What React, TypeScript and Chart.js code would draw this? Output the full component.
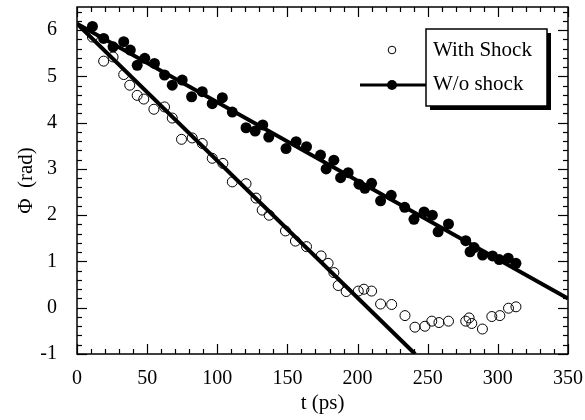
import React, { useEffect, useRef } from "react";
import { Chart, registerables } from "chart.js";

Chart.register(...registerables);

const FONT = "'Liberation Serif', 'Times New Roman', serif";

// Axis ticks
const xMajorTicks = [0, 50, 100, 150, 200, 250, 300, 350];
const yMajorTicks = [-1, 0, 1, 2, 3, 4, 5, 6];
const xMinorStep = 10;
const yMinorStep = 0.2;

// With Shock (open circles)
const withShockT = [11, 19, 25.7, 33.3, 37.6, 42.9, 47.6, 54.8, 62.4, 67.9, 74.5, 82.1, 89.3, 96.4, 104, 110.7, 120.5, 127.6, 132, 137, 148.6, 155.7, 163.6, 174, 179, 183.1, 186.2, 191.9, 200.5, 204.5, 210, 216.4, 224.3, 233.8, 240.9, 248, 252.9, 258, 264.8, 277.1, 279.5, 281.4, 289, 295.7, 301.4, 307.6, 312.9];
const withShockPhi = [5.85, 5.33, 5.42, 5.04, 4.81, 4.59, 4.51, 4.29, 4.34, 4.1, 3.64, 3.67, 3.55, 3.23, 3.12, 2.72, 2.68, 2.37, 2.11, 2.0, 1.66, 1.44, 1.32, 1.12, 0.96, 0.76, 0.48, 0.35, 0.36, 0.4, 0.36, 0.08, 0.07, -0.17, -0.42, -0.4, -0.29, -0.32, -0.29, -0.29, -0.22, -0.34, -0.46, -0.19, -0.17, -0.01, 0.02];

// W/o shock (filled circles)
const withoutShockT = [11, 19, 25.7, 33.3, 38, 42.9, 48.3, 55.2, 62.4, 67.9, 75, 81.7, 89.3, 96.4, 103.6, 110.7, 120.5, 127, 132.4, 136.7, 149, 156.2, 163.6, 173.6, 177.6, 183.1, 187.9, 193.3, 201, 205.2, 210, 216.4, 224, 233.6, 240.2, 247.4, 253.3, 257.4, 264.8, 277.1, 280.2, 283.1, 289.1, 296.2, 301, 307.4, 312.9];
const withoutShockPhi = [6.08, 5.82, 5.64, 5.75, 5.57, 5.24, 5.39, 5.28, 5.03, 4.81, 4.92, 4.56, 4.67, 4.41, 4.54, 4.23, 3.89, 3.82, 3.95, 3.69, 3.44, 3.59, 3.48, 3.3, 3.0, 3.19, 2.81, 2.92, 2.67, 2.58, 2.69, 2.31, 2.43, 2.17, 1.91, 2.07, 2.0, 1.64, 1.81, 1.45, 1.21, 1.3, 1.14, 1.12, 1.04, 1.07, 0.96];

// Linear fits
const fitWithT = [0, 241];
const fitWithPhi = [6.14, -1];
const fitWithoutT = [0, 350];
const fitWithoutPhi = [6.14, 0.2];

const legendLabels = ["With Shock", "W/o shock"];

const toPoints = (xs: number[], ys: number[]) => xs.map((x, i) => ({ x, y: ys[i] }));

const framePlugin = {
  id: "frameTicks",
  afterDatasetsDraw(chart: any) {
    const { ctx, chartArea: a, scales } = chart;
    const x = scales.x;
    const y = scales.y;
    ctx.save();
    ctx.strokeStyle = "#000";
    ctx.lineWidth = 1.5;
    ctx.strokeRect(a.left, a.top, a.right - a.left, a.bottom - a.top);
    ctx.lineWidth = 1.2;
    const seg = (x1: number, y1: number, x2: number, y2: number) => {
      ctx.beginPath();
      ctx.moveTo(x1, y1);
      ctx.lineTo(x2, y2);
      ctx.stroke();
    };
    for (let i = 0; ; i++) {
      const v = x.min + i * xMinorStep;
      if (v > x.max + 1e-9) break;
      const major = xMajorTicks.some((t) => Math.abs(t - v) < 1e-6);
      const len = major ? 10 : 5;
      const px = Math.round(x.getPixelForValue(v)) + 0.5;
      seg(px, a.bottom, px, a.bottom - len);
      seg(px, a.top, px, a.top + len);
    }
    for (let i = 0; ; i++) {
      const v = y.min + i * yMinorStep;
      if (v > y.max + 1e-9) break;
      const major = yMajorTicks.some((t) => Math.abs(t - v) < 1e-6);
      const len = major ? 10 : 5;
      const py = Math.round(y.getPixelForValue(v)) + 0.5;
      seg(a.left, py, a.left + len, py);
      seg(a.right, py, a.right - len, py);
    }
    ctx.restore();
  },
};

const legendPlugin = {
  id: "boxLegend",
  afterDraw(chart: any) {
    const { ctx, chartArea: a } = chart;
    const bx = a.right - 142;
    const by = a.top + 22;
    const bw = 121;
    const bh = 77;
    ctx.save();
    // shadow
    ctx.fillStyle = "#000";
    ctx.fillRect(bx + 4, by + 4, bw, bh);
    ctx.fillStyle = "#fff";
    ctx.fillRect(bx, by, bw, bh);
    ctx.strokeStyle = "#000";
    ctx.lineWidth = 1.5;
    ctx.strokeRect(bx, by, bw, bh);
    // texts
    ctx.fillStyle = "#000";
    ctx.font = `21px ${FONT}`;
    ctx.textAlign = "left";
    ctx.textBaseline = "alphabetic";
    ctx.fillText(legendLabels[0], bx + 7, by + 27);
    ctx.fillText(legendLabels[1], bx + 7, by + 61);
    // symbols
    const sx = bx - 34;
    ctx.lineWidth = 1;
    ctx.beginPath();
    ctx.arc(sx, by + 21, 3.8, 0, Math.PI * 2);
    ctx.stroke();
    ctx.lineWidth = 3;
    ctx.beginPath();
    ctx.moveTo(bx - 66, by + 56);
    ctx.lineTo(bx, by + 56);
    ctx.stroke();
    ctx.beginPath();
    ctx.arc(sx, by + 56, 5, 0, Math.PI * 2);
    ctx.fill();
    ctx.restore();
  },
};

export default function App() {
  const canvasRef = useRef<HTMLCanvasElement | null>(null);

  useEffect(() => {
    if (!canvasRef.current) return;
    Chart.defaults.color = "#000";
    const chart = new Chart(canvasRef.current, {
      type: "scatter",
      data: {
        datasets: [
          {
            label: "With Shock fit",
            type: "line",
            data: toPoints(fitWithT, fitWithPhi),
            borderColor: "#000",
            borderWidth: 4,
            pointRadius: 0,
            fill: false,
            tension: 0,
          },
          {
            label: "W/o shock fit",
            type: "line",
            data: toPoints(fitWithoutT, fitWithoutPhi),
            borderColor: "#000",
            borderWidth: 4,
            pointRadius: 0,
            fill: false,
            tension: 0,
          },
          {
            label: legendLabels[0],
            data: toPoints(withShockT, withShockPhi),
            pointStyle: "circle",
            pointRadius: 5,
            borderWidth: 1,
            borderColor: "#000",
            backgroundColor: "rgba(0,0,0,0)",
            showLine: false,
          },
          {
            label: legendLabels[1],
            data: toPoints(withoutShockT, withoutShockPhi),
            pointStyle: "circle",
            pointRadius: 5.5,
            borderWidth: 0,
            borderColor: "#000",
            backgroundColor: "#000",
            showLine: false,
          },
        ],
      },
      options: {
        responsive: false,
        animation: false,
        layout: { padding: { top: 7, right: 17, left: 0, bottom: 0 } },
        plugins: {
          legend: { display: false },
          tooltip: { enabled: false },
          title: { display: false },
        },
        scales: {
          x: {
            type: "linear",
            min: 0,
            max: 350,
            grid: { display: false, drawTicks: false },
            border: { display: false },
            afterBuildTicks: (s: any) => {
              s.ticks = xMajorTicks.map((v) => ({ value: v }));
            },
            afterFit: (s: any) => {
              s.height = 66;
              s.paddingLeft = 0;
              s.paddingRight = 0;
            },
            ticks: {
              font: { family: FONT, size: 20 },
              color: "#000",
              padding: 13,
              maxRotation: 0,
            },
            title: {
              display: true,
              text: "t (ps)",
              font: { family: FONT, size: 21 },
              color: "#000",
              padding: { top: 0, bottom: 4 },
            },
          },
          y: {
            type: "linear",
            min: -1,
            max: 6.5,
            grid: { display: false, drawTicks: false },
            border: { display: false },
            afterBuildTicks: (s: any) => {
              s.ticks = yMajorTicks.map((v) => ({ value: v }));
            },
            afterFit: (s: any) => {
              s.width = 77;
              s.paddingTop = 0;
              s.paddingBottom = 0;
            },
            ticks: {
              font: { family: FONT, size: 20 },
              color: "#000",
              padding: 20,
            },
            title: {
              display: true,
              text: "Φ  (rad)",
              font: { family: FONT, size: 21 },
              color: "#000",
              padding: { top: 14, bottom: 0 },
            },
          },
        },
      },
      plugins: [framePlugin, legendPlugin],
    } as any);
    return () => chart.destroy();
  }, []);

  return (
    <div style={{ position: "fixed", left: 0, top: 0, width: 585, height: 420, background: "#fff" }}>
      <canvas ref={canvasRef} width={585} height={420} style={{ display: "block" }} />
    </div>
  );
}
